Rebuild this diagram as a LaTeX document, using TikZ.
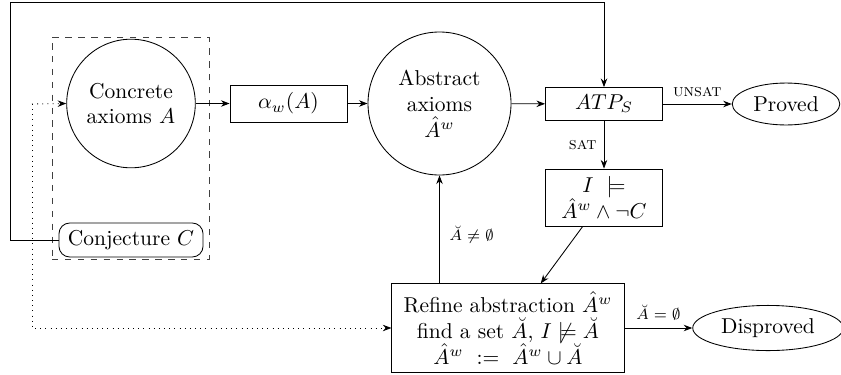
\documentclass[tikz,border=0pt]{standalone}
\usetikzlibrary{shapes.geometric,arrows.meta}
\begin{document}
\begin{tikzpicture}[x=0.465pt,y=-0.465pt,>={Stealth[length=4pt,width=3pt]},
  box/.style={draw,rectangle,minimum width=54.4pt,align=center,inner sep=2pt},
  circ/.style={draw,circle,align=center,inner sep=0pt},
  ell/.style={draw,ellipse,inner sep=0pt},
  lbl/.style={font=\footnotesize},
  slbl/.style={font=\scriptsize}]
\useasboundingbox (0,0) rectangle (841,374);
\node[circ,minimum size=59.8pt] (conc) at (131,103.5) {Concrete\\axioms $A$};
\node[draw,rounded corners=5pt,minimum width=67pt,minimum height=15.8pt,inner sep=2pt] (conj) at (131,240) {Conjecture $C$};
\node[draw,dashed,black!75,minimum width=73pt,minimum height=103.2pt,inner sep=0pt] (grp) at (130.5,148) {};
\node[box,minimum height=17.2pt] (alpha) at (288.5,103.5) {$\alpha_w(A)$};
\node[circ,minimum size=66.5pt] (abs) at (439.5,103.5) {Abstract\\axioms\\$\hat{A}^w$};
\node[box,minimum height=15.3pt] (atp) at (604,104) {$ATP_S$};
\node[ell,minimum width=50pt,minimum height=19.5pt] (proved) at (786,104) {Proved};
\node[box,minimum height=26.5pt,inner sep=1pt] (sat) at (604,197.5) {$I\ \models$\\$\hat{A}^w\wedge\neg C$};
\node[box,minimum width=108pt,minimum height=41pt,inner sep=2pt] (ref) at (508,328) {Refine abstraction $\hat{A}^w$\\find a set $\breve{A}$, $I\not\models\breve{A}$\\$\hat{A}^w\ :=\ \hat{A}^w\cup\breve{A}$};
\node[ell,minimum width=70pt,minimum height=21pt] (disp) at (768,328) {Disproved};
\coordinate (tl) at (10,2);
\coordinate (dc) at (32,104);
\draw[->] (conc) -- (alpha);
\draw[->] (alpha) -- (abs);
\draw[->] (abs) -- (atp);
\draw[->] (atp) -- node[lbl,above] {\textsc{unsat}} (proved);
\draw[->] (atp) -- node[lbl,left] {\textsc{sat}} (sat);
\draw[->] (sat) -- (ref);
\draw[->] (abs.south |- ref.north) -- node[slbl,right=1pt,pos=0.45] {$\breve{A}\neq\emptyset$} (abs.south);
\draw[->] (ref) -- node[slbl,above] {$\breve{A}=\emptyset$} (disp);
\draw[->] (conj.west) -| (tl) -| (atp.north);
\draw[dotted,->] (dc) -- (conc.west);
\draw[dotted,->] (dc) |- (ref.west);
\end{tikzpicture}
\end{document}
